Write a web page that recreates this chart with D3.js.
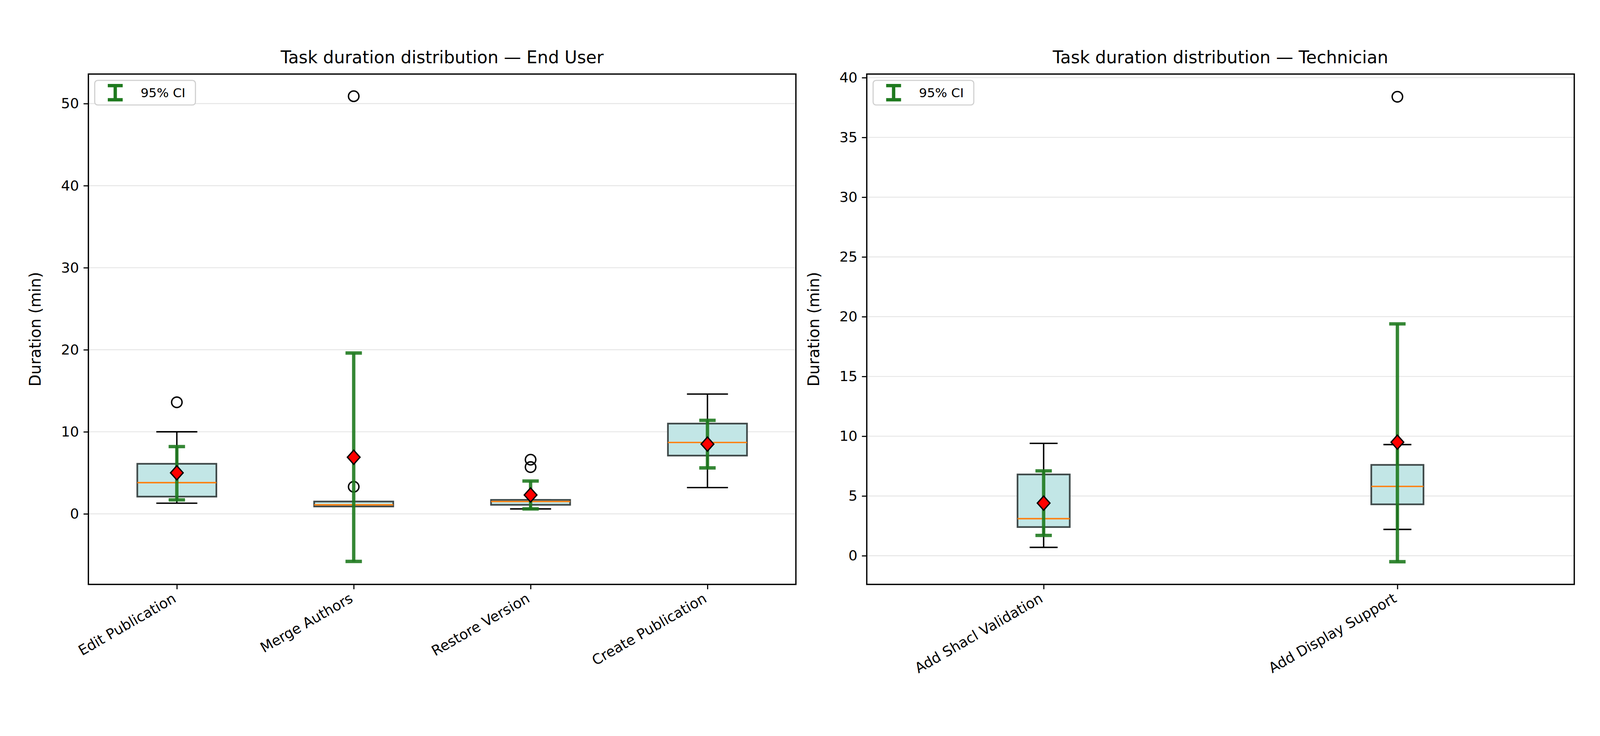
<!DOCTYPE html>
<html><head><meta charset="utf-8">
<script src="https://cdn.jsdelivr.net/npm/d3@7"></script>
<style>html,body{margin:0;padding:0;background:#fff;overflow:hidden;width:100%;height:100%}svg{display:block;font-family:"DejaVu Sans",sans-serif}</style>
</head><body><svg id="c" viewBox="0 0 4290 1885" preserveAspectRatio="xMidYMid meet" style="width:100vw;height:100vh"></svg>
<script>
const endUserTasks = ["Edit Publication","Merge Authors","Restore Version","Create Publication"];
const endUserWhisLo = [1.3,0.9,0.6,3.2];
const endUserQ1 = [2.1,0.9,1.1,7.1];
const endUserMedian = [3.8,1.1,1.5,8.7];
const endUserQ3 = [6.1,1.5,1.7,11.0];
const endUserWhisHi = [10.0,1.5,1.7,14.6];
const endUserOutliers = [[13.6],[3.3,50.9],[5.7,6.6],[]];
const endUserMean = [5.0,6.9,2.3,8.5];
const endUserCiLo = [1.7,-5.8,0.6,5.6];
const endUserCiHi = [8.2,19.6,4.0,11.4];
const endUserTicks = [0,10,20,30,40,50];

const techTasks = ["Add Shacl Validation","Add Display Support"];
const techWhisLo = [0.7,2.2];
const techQ1 = [2.4,4.3];
const techMedian = [3.1,5.8];
const techQ3 = [6.8,7.6];
const techWhisHi = [9.4,9.3];
const techOutliers = [[],[38.4]];
const techMean = [4.4,9.5];
const techCiLo = [1.7,-0.5];
const techCiHi = [7.1,19.4];
const techTicks = [0,5,10,15,20,25,30,35,40];

const svg = d3.select("#c");
const F = 38;

function panel(o){
  const g = svg.append("g");
  const x = d3.scaleLinear().domain([0.5, o.tasks.length+0.5]).range([o.x0,o.x1]);
  const y = d3.scaleLinear().domain(o.ydom).range([1523,154]);
  g.selectAll(".grid").data(o.ticks).join("line")
    .attr("x1",o.x0).attr("x2",o.x1).attr("y1",d=>y(d)).attr("y2",d=>y(d))
    .attr("stroke","#e6e6e6").attr("stroke-width",2.5);
  const idx = d3.range(o.tasks.length);
  const bw = o.bw, cw = o.cw;
  idx.forEach(i=>{
    const cx = x(i+1);
    g.append("line").attr("x1",cx).attr("x2",cx).attr("y1",y(o.wlo[i])).attr("y2",y(o.q1[i])).attr("stroke","#000").attr("stroke-width",3.8);
    g.append("line").attr("x1",cx).attr("x2",cx).attr("y1",y(o.q3[i])).attr("y2",y(o.whi[i])).attr("stroke","#000").attr("stroke-width",3.8);
    [o.wlo[i],o.whi[i]].forEach(v=>g.append("line").attr("x1",cx-cw/2).attr("x2",cx+cw/2).attr("y1",y(v)).attr("y2",y(v)).attr("stroke","#000").attr("stroke-width",3.8));
    g.append("rect").attr("x",cx-bw/2).attr("width",bw).attr("y",y(o.q3[i])).attr("height",Math.max(1,y(o.q1[i])-y(o.q3[i])))
      .attr("fill","#c2e6e6").attr("stroke","#404a4a").attr("stroke-width",4.5);
    g.append("line").attr("x1",cx-bw/2).attr("x2",cx+bw/2).attr("y1",y(o.med[i])).attr("y2",y(o.med[i])).attr("stroke","#ff7f0e").attr("stroke-width",3.8);
    o.out[i].forEach(v=>g.append("circle").attr("cx",cx).attr("cy",y(v)).attr("r",14).attr("fill","none").attr("stroke","#000").attr("stroke-width",3.8));
    g.append("line").attr("x1",cx).attr("x2",cx).attr("y1",y(o.clo[i])).attr("y2",y(o.chi[i])).attr("stroke","#1f7a1f").attr("stroke-opacity",0.9).attr("stroke-width",9);
    [o.clo[i],o.chi[i]].forEach(v=>g.append("line").attr("x1",cx-22).attr("x2",cx+22).attr("y1",y(v)).attr("y2",y(v)).attr("stroke","#1f7a1f").attr("stroke-opacity",0.9).attr("stroke-width",9));
    g.append("path").attr("d",`M${cx},${y(o.mean[i])-19}L${cx+17},${y(o.mean[i])}L${cx},${y(o.mean[i])+19}L${cx-17},${y(o.mean[i])}Z`)
      .attr("fill","#ff0000").attr("stroke","#000").attr("stroke-width",3.5);
  });
  g.append("rect").attr("x",o.x0).attr("y",154).attr("width",o.x1-o.x0).attr("height",1523-154).attr("fill","none").attr("stroke","#000").attr("stroke-width",3.5);
  const ya = g.append("g").attr("transform",`translate(${o.x0},0)`).call(d3.axisLeft(y).tickValues(o.ticks).tickSize(13).tickPadding(12).tickFormat(d3.format("d")));
  ya.select(".domain").remove();
  ya.selectAll("line").attr("stroke-width",3);
  ya.selectAll("text").attr("font-size",F).attr("fill","#000").attr("font-family","DejaVu Sans");
  const xa = g.append("g").attr("transform",`translate(0,1523)`).call(d3.axisBottom(x).tickValues(idx.map(i=>i+1)).tickSize(13).tickFormat(d=>o.tasks[d-1]));
  xa.select(".domain").remove();
  xa.selectAll("line").attr("stroke-width",3);
  xa.selectAll("text").attr("font-size",F).attr("fill","#000").attr("font-family","DejaVu Sans")
    .attr("text-anchor","end").attr("dy",0).attr("y",0)
    .attr("transform","translate(0,45) rotate(-30)");
  g.append("text").attr("x",(o.x0+o.x1)/2).attr("y",125).attr("text-anchor","middle").attr("font-size",46).text(o.title);
  g.append("text").attr("transform",`translate(${o.x0-128},${(154+1523)/2}) rotate(-90)`).attr("text-anchor","middle").attr("font-size",42).text("Duration (min)");
  const lx=o.x0+17, ly=171;
  g.append("rect").attr("x",lx).attr("y",ly).attr("width",270).attr("height",66).attr("rx",8).attr("fill","#fff").attr("stroke","#d0d0d0").attr("stroke-width",3);
  const ex=lx+55;
  g.append("line").attr("x1",ex).attr("x2",ex).attr("y1",ly+14).attr("y2",ly+52).attr("stroke","#1f7a1f").attr("stroke-width",9);
  [ly+14,ly+52].forEach(v=>g.append("line").attr("x1",ex-20).attr("x2",ex+20).attr("y1",v).attr("y2",v).attr("stroke","#1f7a1f").attr("stroke-width",9));
  g.append("text").attr("x",lx+123).attr("y",ly+45).attr("font-size",34).text("95% CI");
}

panel({x0:237,x1:2134,ydom:[-8.6,53.6],ticks:endUserTicks,tasks:endUserTasks,wlo:endUserWhisLo,q1:endUserQ1,med:endUserMedian,q3:endUserQ3,whi:endUserWhisHi,out:endUserOutliers,mean:endUserMean,clo:endUserCiLo,chi:endUserCiHi,bw:212,cw:110,title:"Task duration distribution — End User"});
panel({x0:2324,x1:4221,ydom:[-2.4,40.3],ticks:techTicks,tasks:techTasks,wlo:techWhisLo,q1:techQ1,med:techMedian,q3:techQ3,whi:techWhisHi,out:techOutliers,mean:techMean,clo:techCiLo,chi:techCiHi,bw:140,cw:75,title:"Task duration distribution — Technician"});
</script></body></html>
